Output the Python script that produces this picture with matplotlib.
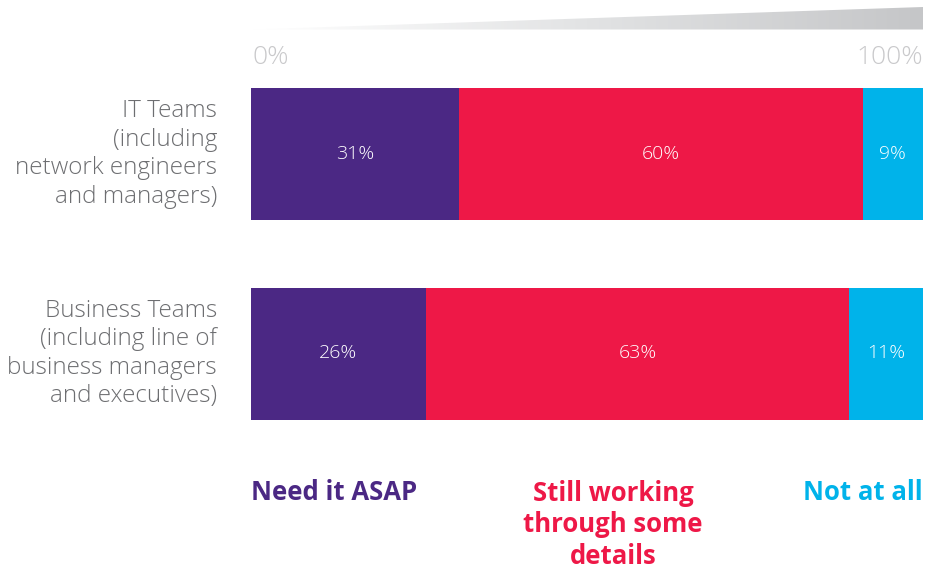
import matplotlib
matplotlib.use("Agg")
import matplotlib.pyplot as plt
import numpy as np
from matplotlib.patches import Polygon
from matplotlib.colors import LinearSegmentedColormap

plt.rcParams['font.family'] = ['Open Sans', 'DejaVu Sans']

groups = ["IT Teams\n(including\nnetwork engineers\nand managers)",
          "Business Teams\n(including line of\nbusiness managers\nand executives)"]
need_asap = [31, 26]
still_working = [60, 63]
not_at_all = [9, 11]
series_names = ["Need it ASAP", "Still working\nthrough some\ndetails", "Not at all"]
series_colors = ["#4b2884", "#ee1847", "#00b3ea"]
tick_labels = ["0%", "100%"]

W, H = 926, 570
fig = plt.figure(figsize=(W / 100, H / 100), dpi=100)
fig.patch.set_facecolor("white")

# background layer in pixel coordinates for the decorative wedge
bg = fig.add_axes([0, 0, 1, 1])
bg.axis("off")
cmap = LinearSegmentedColormap.from_list("wedge", ["#ffffff", "#e2e3e4", "#c5c6c8"])
grad = np.linspace(0, 1, 256).reshape(1, -1)
im = bg.imshow(grad, extent=(252, 923, 30, 6), cmap=cmap, aspect="auto", zorder=1)
wedge = Polygon([(252, 29.5), (923, 7), (923, 29.5)], closed=True,
                facecolor="none", edgecolor="none", transform=bg.transData)
bg.add_patch(wedge)
im.set_clip_path(wedge)
bg.set_xlim(0, W)
bg.set_ylim(H, 0)

# main bar axes: x spans 0..100 %, y in pixel rows
ax = fig.add_axes([251 / W, 0, 672 / W, 1])
ax.set_xlim(0, 100)
ax.set_ylim(H, 0)
ax.axis("off")

ys = [154, 353.5]
lefts = np.zeros(len(groups))
for vals, col in zip([need_asap, still_working, not_at_all], series_colors):
    vals = np.array(vals, dtype=float)
    ax.barh(ys, vals, left=lefts, height=132, color=col, linewidth=0)
    for y, l, v in zip(ys, lefts, vals):
        ax.text(l + v / 2, y, f"{int(v)}%", ha="center", va="center",
                color="white", fontsize=14, fontweight="light")
    lefts += vals

for y, g in zip(ys, groups):
    ax.annotate(g, xy=(0, y), xytext=(-24.5, 0), textcoords="offset points",
                ha="right", va="center", color="#6d6e71", fontsize=17.5,
                fontweight="light", linespacing=1.25, annotation_clip=False)

# scale labels
ax.text(0.2, 58, tick_labels[0], ha="left", va="center", color="#c9c9cb",
        fontsize=19, fontweight="light")
ax.text(100, 58, tick_labels[1], ha="right", va="center", color="#c9c9cb",
        fontsize=19, fontweight="light")

# legend labels
ax.text(0, 493, series_names[0], ha="left", va="center", color=series_colors[0],
        fontsize=18.5, fontweight="bold")
ax.text(53.9, 525, series_names[1], ha="center", va="center", color=series_colors[1],
        fontsize=18.5, fontweight="bold", linespacing=1.22)
ax.text(100, 493, series_names[2], ha="right", va="center", color=series_colors[2],
        fontsize=18.5, fontweight="bold")

fig.savefig("out.png", dpi=100, facecolor="white")
